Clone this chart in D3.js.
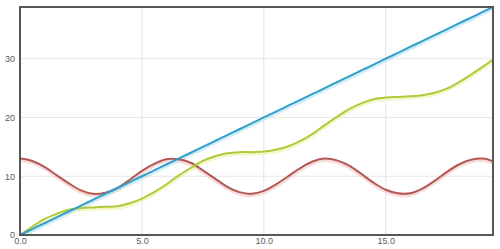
<!DOCTYPE html>
<html>
<head>
<meta charset="utf-8">
<script src="https://cdn.jsdelivr.net/npm/d3@7"></script>
<style>
  html, body { margin: 0; padding: 0; background: #fff; }
  svg { display: block; }
  .tick text { font-family: "Liberation Sans", Arial, sans-serif; font-size: 9px; fill: #5a5a5a; }
</style>
</head>
<body>
<svg id="chart" width="500" height="249"></svg>
<script>
const xs = [0, 0.5, 1, 1.5, 2, 2.5, 3, 3.5, 4, 4.5, 5, 5.5, 6, 6.5, 7, 7.5, 8, 8.5, 9, 9.5,
  10, 10.5, 11, 11.5, 12, 12.5, 13, 13.5, 14, 14.5, 15, 15.5, 16, 16.5, 17, 17.5, 18, 18.5, 19, 19.5];

const redValues = [13.0, 12.6, 11.6, 10.2, 8.8, 7.6, 7.0, 7.2, 8.0, 9.4, 10.9, 12.1, 12.9, 12.9, 12.3, 11.0, 9.6, 8.2, 7.3, 7.0,
  7.5, 8.6, 10.0, 11.4, 12.5, 13.0, 12.7, 11.8, 10.4, 8.9, 7.7, 7.1, 7.1, 7.9, 9.2, 10.7, 12.0, 12.8, 13.0, 12.4];

const greenValues = [0, 1.4, 2.7, 3.6, 4.3, 4.6, 4.7, 4.8, 4.9, 5.4, 6.2, 7.3, 8.6, 10.1, 11.4, 12.6, 13.4, 13.9, 14.1, 14.1,
  14.2, 14.5, 15.1, 16.0, 17.2, 18.7, 20.1, 21.4, 22.4, 23.1, 23.4, 23.5, 23.6, 23.8, 24.2, 24.9, 26.0, 27.3, 28.7, 30.1];

const blueValues = [0, 1, 2, 3, 4, 5, 6, 7, 8, 9, 10, 11, 12, 13, 14, 15, 16, 17, 18, 19,
  20, 21, 22, 23, 24, 25, 26, 27, 28, 29, 30, 31, 32, 33, 34, 35, 36, 37, 38, 39];

const xTicks = [0, 5, 10, 15];
const yTicks = [0, 10, 20, 30];

const series = [
  { name: "red", values: redValues, color: "#b25856", shadow: "#f2c4c4" },
  { name: "green", values: greenValues, color: "#afcb3c", shadow: "#f2f0a8" },
  { name: "blue", values: blueValues, color: "#329fca", shadow: "#b2e2f2" },
];

const svg = d3.select("#chart");
const margin = { top: 7, right: 7, bottom: 14, left: 20 };
const width = 500 - margin.left - margin.right;
const height = 249 - margin.top - margin.bottom;

const x = d3.scaleLinear().domain([0, 19.4]).range([0, width]);
const y = d3.scaleLinear().domain([0, 38.8]).range([height, 0]);

const g = svg.append("g").attr("transform", `translate(${margin.left},${margin.top})`);

svg.append("defs").append("clipPath").attr("id", "clip")
  .append("rect").attr("width", width).attr("height", height);

// Grid lines.
g.append("g")
  .selectAll("line.vgrid")
  .data(xTicks.slice(1))
  .join("line")
  .attr("x1", (d) => x(d)).attr("x2", (d) => x(d))
  .attr("y1", 0).attr("y2", height)
  .attr("stroke", "#e6e6e6").attr("stroke-width", 1);

g.append("g")
  .selectAll("line.hgrid")
  .data(yTicks.slice(1))
  .join("line")
  .attr("x1", 0).attr("x2", width)
  .attr("y1", (d) => y(d)).attr("y2", (d) => y(d))
  .attr("stroke", "#e6e6e6").attr("stroke-width", 1);

// Axes, labels only.
const xAxis = g.append("g")
  .attr("transform", `translate(0,${height})`)
  .call(d3.axisBottom(x).tickValues(xTicks).tickFormat(d3.format(".1f")).tickSize(0).tickPadding(3));
xAxis.select(".domain").remove();

const yAxis = g.append("g")
  .call(d3.axisLeft(y).tickValues(yTicks).tickFormat(d3.format("d")).tickSize(0).tickPadding(5));
yAxis.select(".domain").remove();

const line = d3.line()
  .x((d, i) => x(xs[i]))
  .y((d) => y(d))
  .curve(d3.curveCatmullRom);

const plot = g.append("g").attr("clip-path", "url(#clip)");

// Soft shadow under each line, then the line itself.
for (const s of series) {
  plot.append("path")
    .datum(s.values)
    .attr("d", line)
    .attr("transform", "translate(0,1.5)")
    .attr("fill", "none")
    .attr("stroke", s.shadow)
    .attr("stroke-width", 4)
    .attr("stroke-opacity", 0.6);
}
for (const s of series) {
  plot.append("path")
    .datum(s.values)
    .attr("d", line)
    .attr("fill", "none")
    .attr("stroke", s.color)
    .attr("stroke-width", 2)
    .attr("stroke-linejoin", "round");
}

// Plot border.
g.append("rect")
  .attr("x", 0).attr("y", 0)
  .attr("width", width).attr("height", height)
  .attr("fill", "none")
  .attr("stroke", "#575757")
  .attr("stroke-width", 2);
</script>
</body>
</html>
